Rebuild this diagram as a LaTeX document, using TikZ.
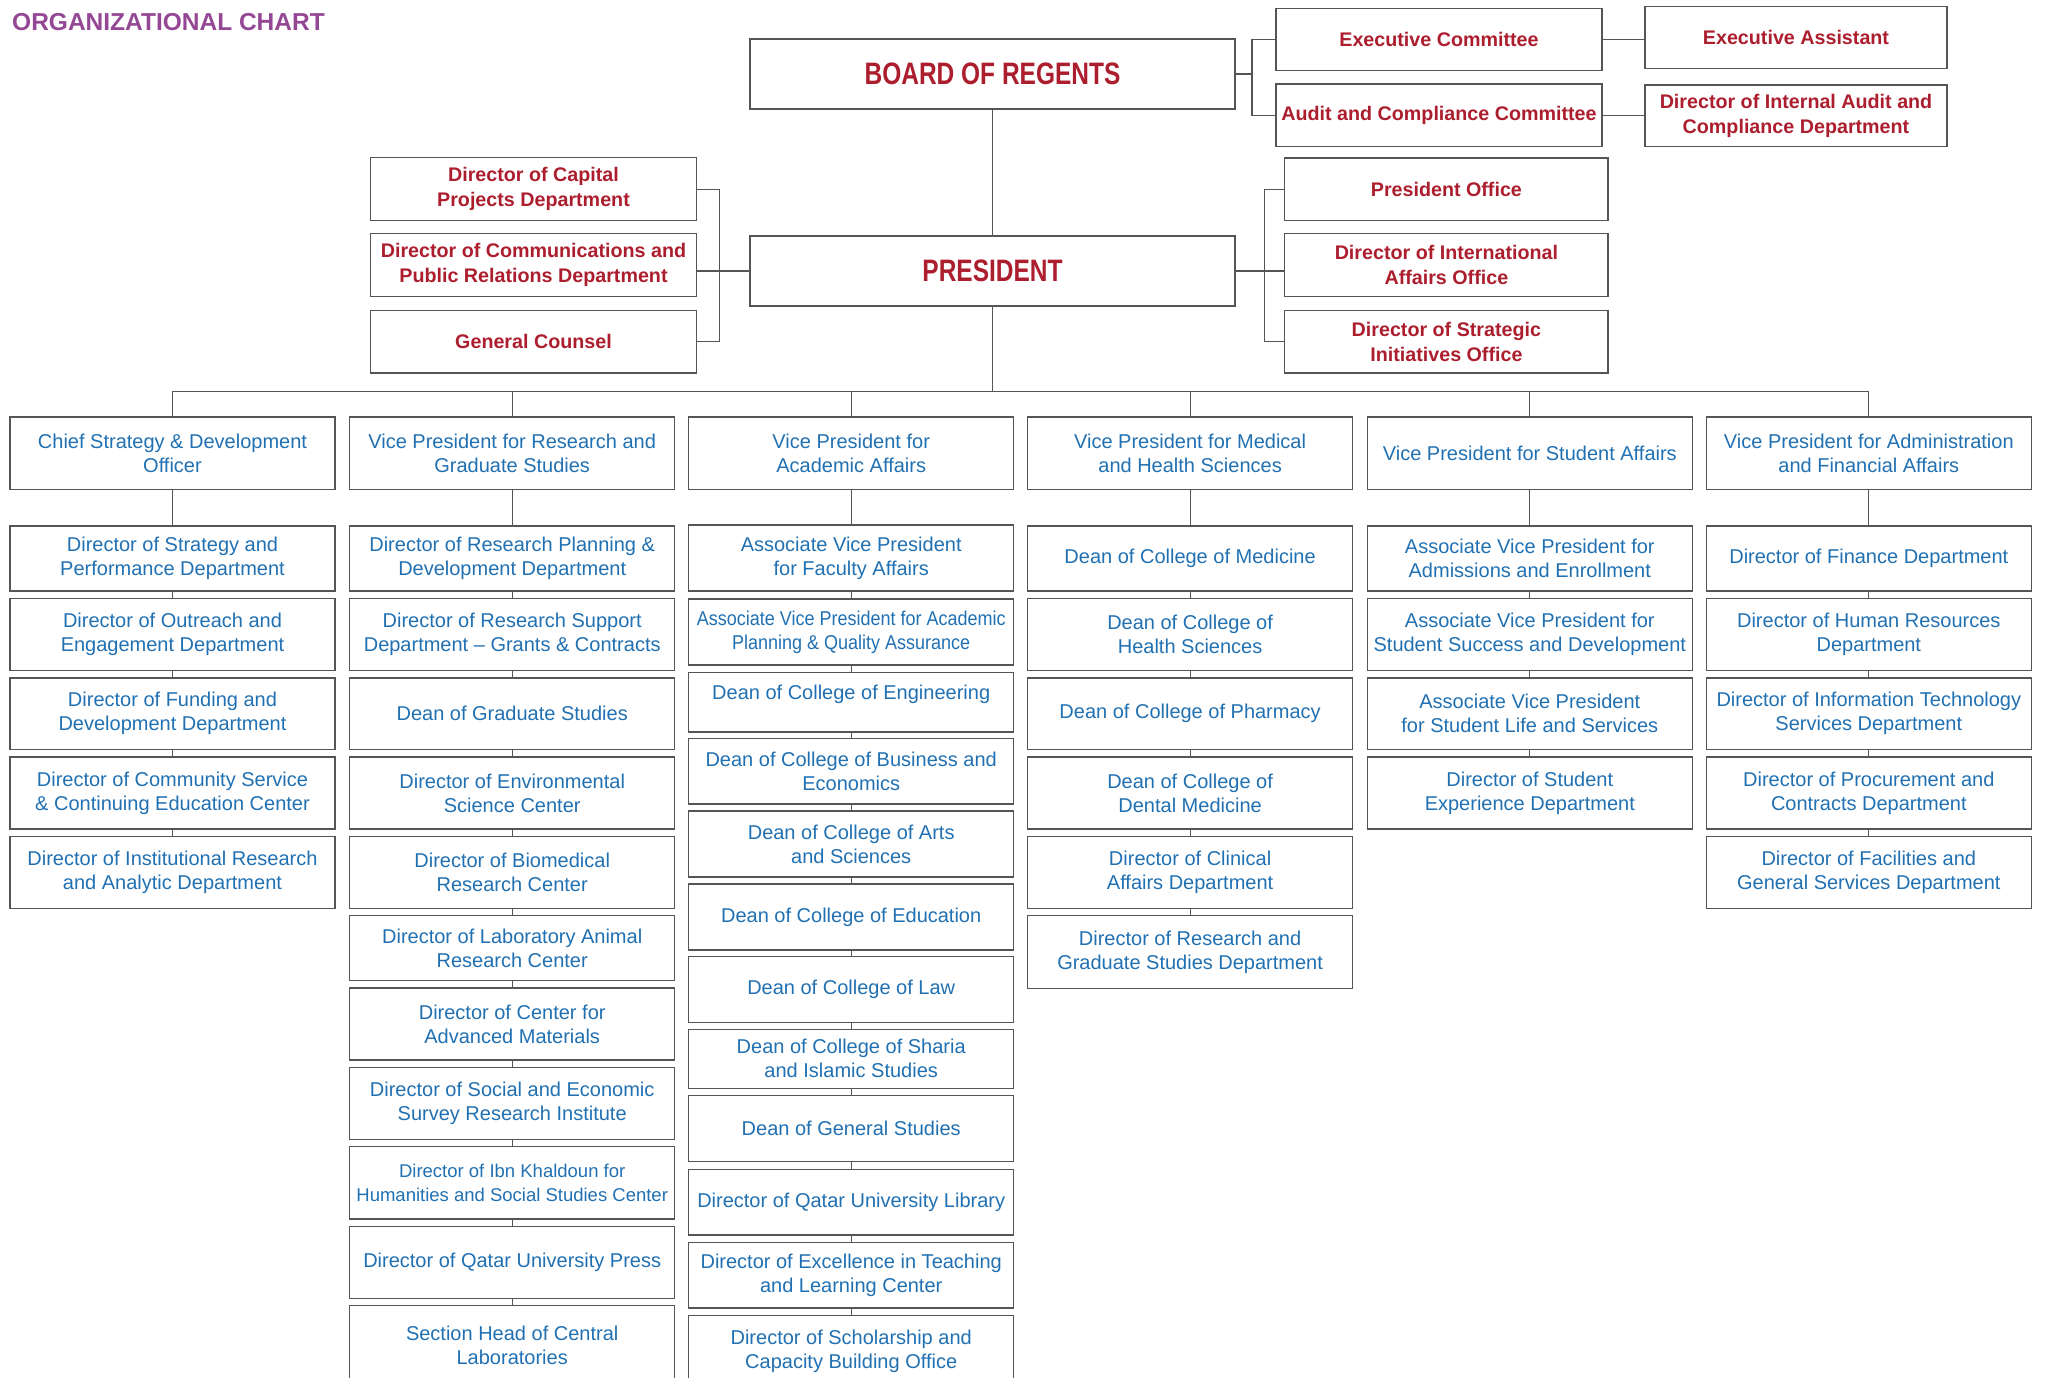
\documentclass[tikz,border=0pt]{standalone}
\usepackage{fontspec}
\setmainfont{Liberation Sans}
\usepackage{xcolor}
\usepackage{tikz}
\usetikzlibrary{shapes,arrows,positioning}

\definecolor{qured}{RGB}{172,30,46}
\definecolor{qublue}{RGB}{32,112,178}
\definecolor{qupurple}{RGB}{148,72,148}
\definecolor{qugray}{RGB}{85,85,85}

\begin{document}
\begin{tikzpicture}[
        x=1pt, y=-1pt,
        box/.style={
            draw=qugray,
            line width=1.4pt,
            rectangle,
            inner sep=1pt,
            minimum width=325pt,
            align=center},
        bluebox/.style={
            box,
            text=qublue,
            font=\fontsize{20}{24}\selectfont},
        redbox/.style={
            box,
            text=qured,
            font=\bfseries\fontsize{19.7}{25}\selectfont},
        bigbox/.style={
            box,
            minimum width=485pt,
            minimum height=70pt,
            text=qured,
            font=\bfseries\fontsize{31}{36}\selectfont},
        link/.style={
            draw=qugray,
            line width=1.2pt}
    ]
                \useasboundingbox (0,0) rectangle (2046,1378);

                \node[anchor=west, inner sep=0pt, text=qupurple, font=\bfseries\fontsize{24.5}{28}\selectfont] (title) at (12,22.5) {ORGANIZATIONAL CHART};

                \node[bigbox] (board) at (992.5,74) {\scalebox{0.79}[1]{BOARD OF REGENTS}};
                \node[bigbox] (pres) at (992.5,271) {\scalebox{0.79}[1]{PRESIDENT}};

                \node[redbox, minimum width=326pt, minimum height=62.4pt] (execcom) at (1439,39.5) {Executive Committee};
                \node[redbox, minimum width=326pt, minimum height=62.3pt] (auditcom) at (1439,115.2) {Audit and Compliance Committee};
                \node[redbox, minimum width=302pt, minimum height=61.6pt] (execasst) at (1796,37.5) {Executive Assistant};
                \node[redbox, minimum width=302pt, minimum height=61.7pt] (intaudit) at (1796,115.9) {Director of Internal Audit and\\Compliance Department};

                \node[redbox, minimum width=326pt, minimum height=63pt] (capital) at (533.5,189.2) {Director of Capital\\Projects Department};
                \node[redbox, minimum width=326pt, minimum height=62.6pt] (comms) at (533.5,265) {Director of Communications and\\Public Relations Department};
                \node[redbox, minimum width=326pt, minimum height=62.7pt] (counsel) at (533.5,341.7) {General Counsel};

                \node[redbox, minimum width=323.3pt, minimum height=62.7pt] (presoffice) at (1446.4,189.3) {President Office};
                \node[redbox, minimum width=323.3pt, minimum height=62.6pt] (intl) at (1446.4,265) {Director of International\\Affairs Office};
                \node[redbox, minimum width=323.3pt, minimum height=62.3pt] (strategic) at (1446.4,341.8) {Director of Strategic\\Initiatives Office};

                \coordinate (boardfork) at (1252,74);
                \coordinate (leftfork) at (719.7,271);
                \coordinate (rightfork) at (1264.7,271);
                \coordinate (bus) at (992.5,391.4);

                \draw[link] (board.south) -- (pres.north);
                \draw[link] (board.east) -- (boardfork);
                \draw[link] (execcom.west) -| (boardfork) |- (auditcom.west);
                \draw[link] (execcom.east) -- (execcom.east -| execasst.west);
                \draw[link] (auditcom.east) -- (auditcom.east -| intaudit.west);
                \draw[link] (pres.west) -- (pres.west -| comms.east);
                \draw[link] (capital.east) -| (leftfork) |- (counsel.east);
                \draw[link] (pres.east) -- (pres.east -| intl.west);
                \draw[link] (presoffice.west) -| (rightfork) |- (strategic.west);

                \node[bluebox, minimum height=72.4pt] (head1) at (172.5,453) {Chief Strategy \& Development\\Officer};
                \node[bluebox, minimum height=72.4pt] (head2) at (512.2,453) {Vice President for Research and\\Graduate Studies};
                \node[bluebox, minimum height=72.4pt] (head3) at (851.2,453) {Vice President for\\Academic Affairs};
                \node[bluebox, minimum height=72.4pt] (head4) at (1190.1,453) {Vice President for Medical\\and Health Sciences};
                \node[bluebox, minimum height=72.4pt] (head5) at (1529.8,453) {Vice President for Student Affairs};
                \node[bluebox, minimum height=72.4pt] (head6) at (1868.8,453) {Vice President for Administration\\and Financial Affairs};

                \draw[link] (pres.south) -- (bus);
                \draw[link] (head1.north) |- (bus) -| (head6.north);
                \draw[link] (head2.north) -- (head2.north |- bus);
                \draw[link] (head3.north) -- (head3.north |- bus);
                \draw[link] (head4.north) -- (head4.north |- bus);
                \draw[link] (head5.north) -- (head5.north |- bus);

                \node[bluebox, minimum height=65pt] (strategy) at (172.5,558.5) {Director of Strategy and\\Performance Department};
                \node[bluebox, minimum height=72pt] (outreach) at (172.5,634.3) {Director of Outreach and\\Engagement Department};
                \node[bluebox, minimum height=71.6pt] (funding) at (172.5,713.7) {Director of Funding and\\Development Department};
                \node[bluebox, minimum height=72pt] (community) at (172.5,793) {Director of Community Service\\\& Continuing Education Center};
                \node[bluebox, minimum height=72pt] (institutional) at (172.5,872.6) {Director of Institutional Research\\and Analytic Department};

                \node[bluebox, minimum height=65pt] (resplan) at (512.2,558.5) {Director of Research Planning \&\\Development Department};
                \node[bluebox, minimum height=72pt] (ressupport) at (512.2,634.3) {Director of Research Support\\Department -- Grants \& Contracts};
                \node[bluebox, minimum height=71.6pt] (gradstudies) at (512.2,713.7) {Dean of Graduate Studies};
                \node[bluebox, minimum height=72pt] (environ) at (512.2,793) {Director of Environmental\\Science Center};
                \node[bluebox, minimum height=72pt] (biomed) at (512.2,872.6) {Director of Biomedical\\Research Center};
                \node[bluebox, minimum height=65pt] (labanimal) at (512.2,948.2) {Director of Laboratory Animal\\Research Center};
                \node[bluebox, minimum height=72pt] (advmat) at (512.2,1024) {Director of Center for\\Advanced Materials};
                \node[bluebox, minimum height=72pt] (socecon) at (512.2,1103.3) {Director of Social and Economic\\Survey Research Institute};
                \node[bluebox, minimum height=72.3pt, font=\fontsize{18.5}{24}\selectfont] (ibnkhaldoun) at (512.2,1182.8) {Director of Ibn Khaldoun for\\Humanities and Social Studies Center};
                \node[bluebox, minimum height=72pt] (press) at (512.2,1262.3) {Director of Qatar University Press};
                \node[bluebox, minimum height=80pt] (centrallab) at (512.2,1345.7) {Section Head of Central\\Laboratories};

                \node[bluebox, minimum height=66pt] (faculty) at (851.2,558) {Associate Vice President\\for Faculty Affairs};
                \node[bluebox, minimum height=66pt] (planning) at (851.2,632) {\scalebox{0.9}[1]{Associate Vice President for Academic}\\\scalebox{0.9}[1]{Planning \& Quality Assurance}};
                \node[bluebox, minimum height=59.2pt, text depth=20pt] (engineering) at (851.2,702.3) {Dean of College of Engineering};
                \node[bluebox, minimum height=65.7pt] (business) at (851.2,771.3) {Dean of College of Business and\\Economics};
                \node[bluebox, minimum height=65.8pt] (arts) at (851.2,844) {Dean of College of Arts\\and Sciences};
                \node[bluebox, minimum height=66.2pt] (education) at (851.2,917) {Dean of College of Education};
                \node[bluebox, minimum height=65.6pt] (law) at (851.2,989.5) {Dean of College of Law};
                \node[bluebox, minimum height=59pt] (sharia) at (851.2,1058.8) {Dean of College of Sharia\\and Islamic Studies};
                \node[bluebox, minimum height=66pt] (general) at (851.2,1128.7) {Dean of General Studies};
                \node[bluebox, minimum height=65.7pt] (library) at (851.2,1202.2) {Director of Qatar University Library};
                \node[bluebox, minimum height=65.7pt] (excellence) at (851.2,1275.2) {Director of Excellence in Teaching\\and Learning Center};
                \node[bluebox, minimum height=72pt] (scholarship) at (851.2,1351.7) {Director of Scholarship and\\Capacity Building Office};

                \node[bluebox, minimum height=65pt] (medicine) at (1190.1,558.5) {Dean of College of Medicine};
                \node[bluebox, minimum height=72pt] (health) at (1190.1,634.3) {Dean of College of\\Health Sciences};
                \node[bluebox, minimum height=71.6pt] (pharmacy) at (1190.1,713.7) {Dean of College of Pharmacy};
                \node[bluebox, minimum height=72pt] (dental) at (1190.1,793) {Dean of College of\\Dental Medicine};
                \node[bluebox, minimum height=72pt] (clinical) at (1190.1,872.6) {Director of Clinical\\Affairs Department};
                \node[bluebox, minimum height=72.6pt] (medresearch) at (1190.1,952) {Director of Research and\\Graduate Studies Department};

                \node[bluebox, minimum height=65pt] (admissions) at (1529.8,558.5) {Associate Vice President for\\Admissions and Enrollment};
                \node[bluebox, minimum height=72pt] (success) at (1529.8,634.3) {Associate Vice President for\\Student Success and Development};
                \node[bluebox, minimum height=71.6pt] (studentlife) at (1529.8,713.7) {Associate Vice President\\for Student Life and Services};
                \node[bluebox, minimum height=72pt] (experience) at (1529.8,793) {Director of Student\\Experience Department};

                \node[bluebox, minimum height=65pt] (finance) at (1868.8,558.5) {Director of Finance Department};
                \node[bluebox, minimum height=72pt] (hr) at (1868.8,634.3) {Director of Human Resources\\Department};
                \node[bluebox, minimum height=71.6pt] (it) at (1868.8,713.7) {Director of Information Technology\\Services Department};
                \node[bluebox, minimum height=72pt] (procurement) at (1868.8,793) {Director of Procurement and\\Contracts Department};
                \node[bluebox, minimum height=72pt] (facilities) at (1868.8,872.6) {Director of Facilities and\\General Services Department};

                \draw[link] (head1.south) -- (strategy.north);
                \draw[link] (strategy.south) -- (outreach.north);
                \draw[link] (outreach.south) -- (funding.north);
                \draw[link] (funding.south) -- (community.north);
                \draw[link] (community.south) -- (institutional.north);

                \draw[link] (head2.south) -- (resplan.north);
                \draw[link] (resplan.south) -- (ressupport.north);
                \draw[link] (ressupport.south) -- (gradstudies.north);
                \draw[link] (gradstudies.south) -- (environ.north);
                \draw[link] (environ.south) -- (biomed.north);
                \draw[link] (biomed.south) -- (labanimal.north);
                \draw[link] (labanimal.south) -- (advmat.north);
                \draw[link] (advmat.south) -- (socecon.north);
                \draw[link] (socecon.south) -- (ibnkhaldoun.north);
                \draw[link] (ibnkhaldoun.south) -- (press.north);
                \draw[link] (press.south) -- (centrallab.north);

                \draw[link] (head3.south) -- (faculty.north);
                \draw[link] (faculty.south) -- (planning.north);
                \draw[link] (planning.south) -- (engineering.north);
                \draw[link] (engineering.south) -- (business.north);
                \draw[link] (business.south) -- (arts.north);
                \draw[link] (arts.south) -- (education.north);
                \draw[link] (education.south) -- (law.north);
                \draw[link] (law.south) -- (sharia.north);
                \draw[link] (sharia.south) -- (general.north);
                \draw[link] (general.south) -- (library.north);
                \draw[link] (library.south) -- (excellence.north);
                \draw[link] (excellence.south) -- (scholarship.north);

                \draw[link] (head4.south) -- (medicine.north);
                \draw[link] (medicine.south) -- (health.north);
                \draw[link] (health.south) -- (pharmacy.north);
                \draw[link] (pharmacy.south) -- (dental.north);
                \draw[link] (dental.south) -- (clinical.north);
                \draw[link] (clinical.south) -- (medresearch.north);

                \draw[link] (head5.south) -- (admissions.north);
                \draw[link] (admissions.south) -- (success.north);
                \draw[link] (success.south) -- (studentlife.north);
                \draw[link] (studentlife.south) -- (experience.north);

                \draw[link] (head6.south) -- (finance.north);
                \draw[link] (finance.south) -- (hr.north);
                \draw[link] (hr.south) -- (it.north);
                \draw[link] (it.south) -- (procurement.north);
                \draw[link] (procurement.south) -- (facilities.north);
\end{tikzpicture}
\end{document}
